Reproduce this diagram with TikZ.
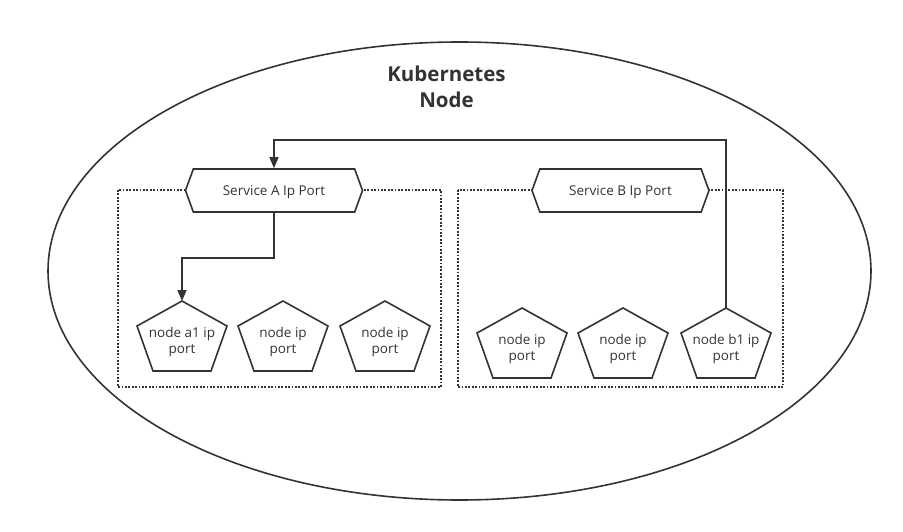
\documentclass[tikz,border=0pt]{standalone}
\usepackage{fontspec}
\setmainfont{Open Sans}
\usetikzlibrary{shapes.symbols,arrows.meta}

\definecolor{inkgray}{HTML}{333333}

% one pod port: name, x, top y, text
\newcommand{\portnode}[4]{%
  \draw[pentline] (#2,#3) -- (#2+45,#3+25) -- (#2+29,#3+70)
    -- (#2-29,#3+70) -- (#2-45,#3+25) -- cycle;
  \coordinate (#1-top) at (#2,#3);
  \node[porttext] (#1) at (#2,#3+41) {#4};
}

\tikzset{
  pentline/.style={draw=inkgray, line width=1.6pt, line join=miter},
  porttext/.style={align=center, inner sep=0pt, text=inkgray,
    font=\fontsize{13.5}{16}\selectfont},
  svc/.style={draw=inkgray, fill=white, line width=1.6pt, shape=signal,
    signal to=west and east, signal pointer angle=140,
    minimum width=177pt, minimum height=43pt, inner sep=0pt,
    text height=11pt, text depth=0pt,
    text=inkgray, font=\fontsize{13.5}{16}\selectfont},
  grpbox/.style={draw=inkgray, line width=1.8pt,
    dash pattern=on 1.8pt off 1.6pt},
  flow/.style={draw=inkgray, line width=1.6pt,
    -{Triangle[length=11pt,width=9pt]}},
}

\begin{document}
\begin{tikzpicture}[x=1pt,y=-1pt]
  \useasboundingbox (0,0) rectangle (903,532);

  % the node itself
  \draw[inkgray, line width=1.6pt] (459.5,271) ellipse [x radius=411.5pt, y radius=229pt];
  \node[align=center, text=inkgray, font=\fontsize{20.5}{26}\selectfont\bfseries]
    (title) at (446.5,87) {Kubernetes\\Node};

  % service groups
  \draw[grpbox] (118,190) rectangle (441,387);
  \draw[grpbox] (458,190) rectangle (783,387);

  \node[svc] (svcA) at (274,190.5) {Service A Ip Port};
  \node[svc] (svcB) at (620.5,190.5) {Service B Ip Port};

  \portnode{a1}{182}{301}{node a1 ip\\port}
  \portnode{a2}{283}{301}{node ip\\port}
  \portnode{a3}{385}{301}{node ip\\port}

  \portnode{b2}{522}{308}{node ip\\port}
  \portnode{b3}{623}{308}{node ip\\port}
  \portnode{b1}{726}{308}{node b1 ip\\port}

  % traffic
  \draw[flow] (svcA.south) -- ++(0,45) -| (a1-top);
  \draw[flow] (b1-top) -- ++(0,-168) -| (svcA.north);
\end{tikzpicture}
\end{document}
